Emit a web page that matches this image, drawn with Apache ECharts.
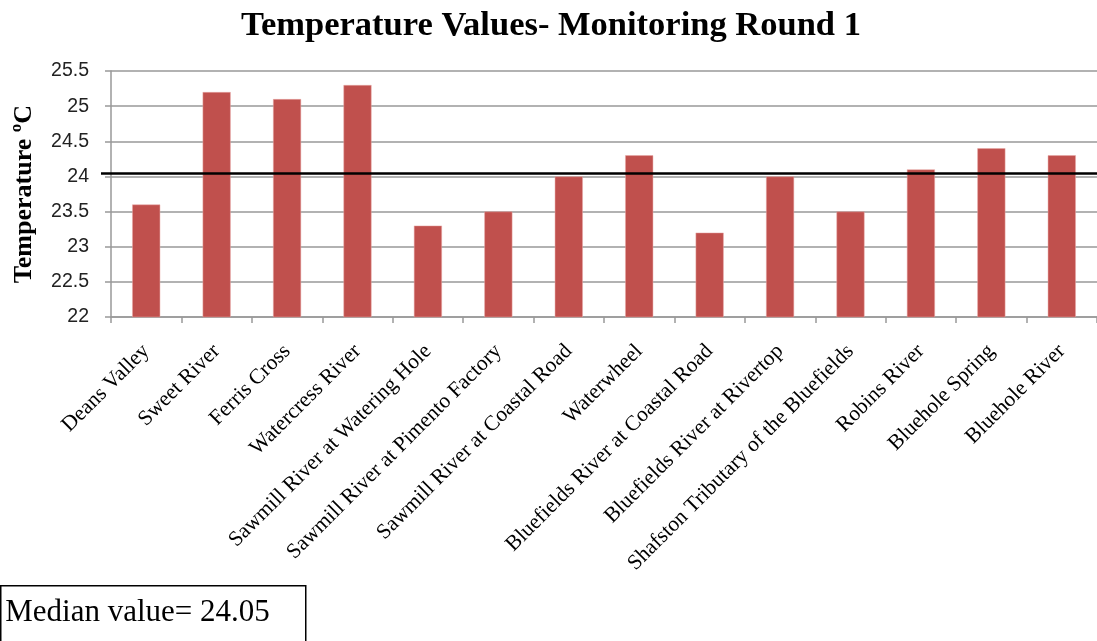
<!DOCTYPE html>
<html>
<head>
<meta charset="utf-8">
<script src="https://cdn.jsdelivr.net/npm/echarts@6/dist/echarts.min.js"></script>
<style>
html,body{margin:0;padding:0;background:#fff;}
#chart{width:1097px;height:641px;}
</style>
</head>
<body>
<div id="chart"></div>
<script>
const categories = ["Deans Valley","Sweet River","Ferris Cross","Watercress River","Sawmill River at Watering Hole","Sawmill River at Pimento Factory","Sawmill River at Coastal Road","Waterwheel","Bluefields River at Coastal Road","Bluefields River at Rivertop","Shafston Tributary of the Bluefields","Robins River","Bluehole Spring","Bluehole River"];
const temperatures = [23.6, 25.2, 25.1, 25.3, 23.3, 23.5, 24.0, 24.3, 23.2, 24.0, 23.5, 24.1, 24.4, 24.3];
const medianValue = 24.05;
const titleText = "Temperature Values- Monitoring Round 1";
const yAxisName = "Temperature ºC";
const medianLabel = "Median value= 24.05";

const chart = echarts.init(document.getElementById('chart'));
chart.setOption({
  animation: false,
  backgroundColor: '#fff',
  title: {
    text: titleText,
    left: 546,
    textAlign: 'center',
    top: 4,
    textStyle: {fontFamily: 'Liberation Serif', fontWeight: 'bold', fontSize: 34.5, color: '#000'}
  },
  grid: {left: 111, top: 71, width: 991, height: 246},
  xAxis: {
    type: 'category',
    data: categories,
    axisLine: {lineStyle: {color: '#999', width: 1.5}},
    axisTick: {show: true, length: 6, alignWithLabel: false, lineStyle: {color: '#999', width: 1.5}},
    axisLabel: {
      rotate: 45, interval: 0, margin: 31,
      fontFamily: 'Liberation Serif', fontSize: 21.5, color: '#000'
    }
  },
  yAxis: {
    type: 'value',
    min: 22, max: 25.5, interval: 0.5,
    name: yAxisName,
    nameLocation: 'middle',
    nameGap: 74,
    nameRotate: 90,
    nameTextStyle: {fontFamily: 'Liberation Serif', fontWeight: 'bold', fontSize: 26, color: '#000'},
    axisLine: {show: true, lineStyle: {color: '#999', width: 1.5}},
    axisTick: {show: true, length: 6, lineStyle: {color: '#999', width: 1.5}},
    axisLabel: {fontFamily: 'Liberation Sans', fontSize: 19.5, color: '#222', margin: 22},
    splitLine: {lineStyle: {color: '#999', width: 1.5}}
  },
  series: [{
    type: 'bar',
    data: temperatures,
    barWidth: 28,
    itemStyle: {color: '#C0504D', borderColor: '#E8A8A6', borderWidth: 0.5},
    markLine: {
      symbol: 'none',
      silent: true,
      label: {show: false},
      lineStyle: {color: '#000', width: 2.5, type: 'solid'},
      data: [[{x: 101, yAxis: medianValue}, {x: 1097, yAxis: medianValue}]]
    }
  }],
  graphic: [{
    type: 'group',
    left: 0, top: 585,
    children: [
      {type: 'rect', shape: {x: 0.5, y: 0.5, width: 305, height: 60}, style: {fill: '#fff', stroke: '#000', lineWidth: 1.5}},
      {type: 'text', left: 5, top: 12, style: {text: medianLabel, fontFamily: 'Liberation Serif', fontSize: 31, fill: '#000'}}
    ]
  }]
});
</script>
</body>
</html>
